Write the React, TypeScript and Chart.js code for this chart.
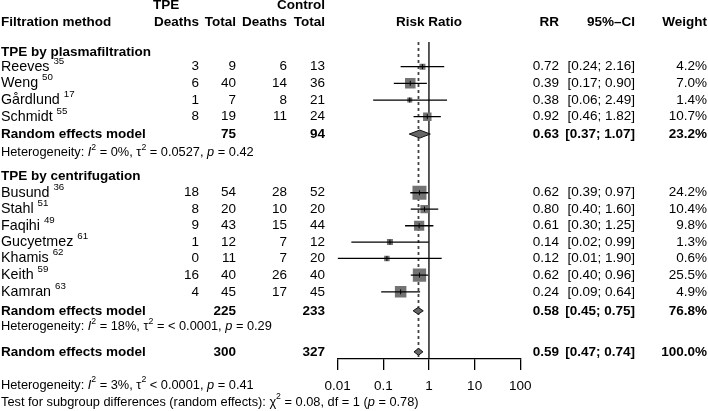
import React, { useEffect, useRef } from 'react';
import { Chart, registerables } from 'chart.js';

Chart.register(...registerables);

// ---------------- data ----------------
const studies = ['Reeves', 'Weng', 'Gårdlund', 'Schmidt', 'Busund', 'Stahl', 'Faqihi', 'Gucyetmez', 'Khamis', 'Keith', 'Kamran'];
const refs = ['35', '50', '17', '55', '36', '51', '49', '61', '62', '59', '63'];
const tpeDeaths = [3, 6, 1, 8, 18, 8, 9, 1, 0, 16, 4];
const tpeTotal = [9, 40, 7, 19, 54, 20, 43, 12, 11, 40, 45];
const ctrlDeaths = [6, 14, 8, 11, 28, 10, 15, 7, 7, 26, 17];
const ctrlTotal = [13, 36, 21, 24, 52, 20, 44, 12, 20, 40, 45];
const rr = [0.72, 0.39, 0.38, 0.92, 0.62, 0.8, 0.61, 0.14, 0.12, 0.62, 0.24];
const ciLow = [0.24, 0.17, 0.06, 0.46, 0.39, 0.4, 0.3, 0.02, 0.01, 0.4, 0.09];
const ciHigh = [2.16, 0.9, 2.49, 1.82, 0.97, 1.6, 1.25, 0.99, 1.9, 0.96, 0.64];
const weights = [4.2, 7.0, 1.4, 10.7, 24.2, 10.4, 9.8, 1.3, 0.6, 25.5, 4.9];

const groups = ['TPE by plasmafiltration', 'TPE by centrifugation'];
const groupTpeTotal = [75, 225];
const groupCtrlTotal = [94, 233];
const groupRR = [0.63, 0.58];
const groupLow = [0.37, 0.45];
const groupHigh = [1.07, 0.75];
const groupWeight = [23.2, 76.8];
const groupI2 = ['0%', '18%'];
const groupTau2 = ['= 0.0527', '= < 0.0001'];
const groupP = ['0.42', '0.29'];

const overallTpeTotal = 300;
const overallCtrlTotal = 327;
const overallRR = 0.59;
const overallLow = 0.47;
const overallHigh = 0.74;
const overallWeight = 100.0;
const overallI2 = '3%';
const overallTau2 = '< 0.0001';
const overallP = '0.41';
const testChi2 = '0.08';
const testDf = '1';
const testP = '0.78';

const xTicks = [0.01, 0.1, 1, 10, 100];

// ---------------- layout / style ----------------
const studyRow = [0, 1, 2, 3, 7.56, 8.54, 9.54, 10.52, 11.5, 12.5, 13.5];
const groupHeadRow = [-0.88, 6.6];
const groupRERow = [4.04, 14.64];
const groupHetRow = [5.16, 15.6];
const overallRow = 17.1;
const header1Row = -3.7;
const header2Row = -2.68;
const bottom1Row = 19.1;
const bottom2Row = 20.12;
const Y_TOP = -1.48;
const Y_BOTTOM = 17.53;

const squareSide = [6, 10.5, 5, 8.5, 14, 8.3, 10.2, 6, 5.5, 13.3, 11.5];
const diamondHalf = [4, 3.4];
const overallDiamondHalf = 3.4;

const COL = { name: 1, tpeHead: 153, tpeDeaths: 199, tpeTotal: 236, ctrlDeaths: 287, ctrlTotal: 325, rr: 559, ci: 635, weight: 707 };
const FONT = '"Liberation Sans", Arial, Helvetica, sans-serif';
const SZ = 13.5;
const SZ_NAME = 14.3;
const SZ_HET = 12.8;

type Seg = { t: string; b?: boolean; i?: boolean; sup?: boolean };

function fontOf(s: Seg, size: number, bold: boolean) {
  const sz = s.sup ? size * 0.68 : size;
  return `${s.i ? 'italic ' : ''}${bold || s.b ? 'bold ' : ''}${sz}px ${FONT}`;
}

function drawRich(ctx: CanvasRenderingContext2D, segs: Seg[], x: number, y: number, align: 'left' | 'right' | 'center', size = SZ, bold = false) {
  ctx.save();
  ctx.textBaseline = 'middle';
  ctx.textAlign = 'left';
  ctx.fillStyle = '#000';
  const widths = segs.map((s) => {
    ctx.font = fontOf(s, size, bold);
    return ctx.measureText(s.t).width;
  });
  const total = widths.reduce((a, b) => a + b, 0);
  let cx = align === 'left' ? x : align === 'right' ? x - total : x - total / 2;
  segs.forEach((s, k) => {
    ctx.font = fontOf(s, size, bold);
    ctx.fillText(s.t, cx, s.sup ? y - size * 0.4 : y);
    cx += widths[k];
  });
  ctx.restore();
}

const fmt2 = (v: number) => v.toFixed(2);
const ciText = (lo: number, hi: number) => `[${fmt2(lo)}; ${fmt2(hi)}]`;
const wText = (w: number) => `${w.toFixed(1)}%`;

const textPlugin = {
  id: 'forestText',
  afterDraw(chart: any) {
    const ctx: CanvasRenderingContext2D = chart.ctx;
    const ys = chart.scales.y;
    const xs = chart.scales.x;
    const Y = (r: number) => ys.getPixelForValue(r);
    const T = (t: string, x: number, r: number, align: 'left' | 'right' | 'center', bold = false, size = SZ) =>
      drawRich(ctx, [{ t }], x, Y(r), align, size, bold);

    // headers
    T('TPE', COL.tpeHead, header1Row, 'left', true);
    T('Control', COL.ctrlTotal, header1Row, 'right', true);
    T('Filtration method', COL.name, header2Row, 'left', true);
    T('Deaths', COL.tpeDeaths, header2Row, 'right', true);
    T('Total', COL.tpeTotal, header2Row, 'right', true);
    T('Deaths', COL.ctrlDeaths, header2Row, 'right', true);
    T('Total', COL.ctrlTotal, header2Row, 'right', true);
    T('Risk Ratio', xs.getPixelForValue(1), header2Row, 'center', true);
    T('RR', COL.rr, header2Row, 'right', true);
    T('95%–CI', COL.ci, header2Row, 'right', true);
    T('Weight', COL.weight, header2Row, 'right', true);

    // studies
    studies.forEach((name, i) => {
      const r = studyRow[i];
      drawRich(ctx, [{ t: name + ' ' }, { t: refs[i], sup: true }], COL.name, Y(r), 'left', SZ_NAME);
      T(String(tpeDeaths[i]), COL.tpeDeaths, r, 'right');
      T(String(tpeTotal[i]), COL.tpeTotal, r, 'right');
      T(String(ctrlDeaths[i]), COL.ctrlDeaths, r, 'right');
      T(String(ctrlTotal[i]), COL.ctrlTotal, r, 'right');
      T(fmt2(rr[i]), COL.rr, r, 'right');
      T(ciText(ciLow[i], ciHigh[i]), COL.ci, r, 'right');
      T(wText(weights[i]), COL.weight, r, 'right');
    });

    // subgroups
    groups.forEach((g, k) => {
      T(g, COL.name, groupHeadRow[k], 'left', true);
      const r = groupRERow[k];
      T('Random effects model', COL.name, r, 'left', true);
      T(String(groupTpeTotal[k]), COL.tpeTotal, r, 'right', true);
      T(String(groupCtrlTotal[k]), COL.ctrlTotal, r, 'right', true);
      T(fmt2(groupRR[k]), COL.rr, r, 'right', true);
      T(ciText(groupLow[k], groupHigh[k]), COL.ci, r, 'right', true);
      T(wText(groupWeight[k]), COL.weight, r, 'right', true);
      drawRich(ctx, [
        { t: 'Heterogeneity: ' }, { t: 'I', i: true }, { t: '2', sup: true },
        { t: ` = ${groupI2[k]}, τ` }, { t: '2', sup: true }, { t: ` ${groupTau2[k]}, ` },
        { t: 'p', i: true }, { t: ` = ${groupP[k]}` },
      ], COL.name, Y(groupHetRow[k]), 'left', SZ_HET);
    });

    // overall
    T('Random effects model', COL.name, overallRow, 'left', true);
    T(String(overallTpeTotal), COL.tpeTotal, overallRow, 'right', true);
    T(String(overallCtrlTotal), COL.ctrlTotal, overallRow, 'right', true);
    T(fmt2(overallRR), COL.rr, overallRow, 'right', true);
    T(ciText(overallLow, overallHigh), COL.ci, overallRow, 'right', true);
    T(wText(overallWeight), COL.weight, overallRow, 'right', true);

    drawRich(ctx, [
      { t: 'Heterogeneity: ' }, { t: 'I', i: true }, { t: '2', sup: true },
      { t: ` = ${overallI2}, τ` }, { t: '2', sup: true }, { t: ` ${overallTau2}, ` },
      { t: 'p', i: true }, { t: ` = ${overallP}` },
    ], COL.name, Y(bottom1Row), 'left', SZ_HET);
    drawRich(ctx, [
      { t: 'Test for subgroup differences (random effects): χ' }, { t: '2', sup: true },
      { t: ` = ${testChi2}, df = ${testDf} (` }, { t: 'p', i: true }, { t: ` = ${testP})` },
    ], COL.name, Y(bottom2Row), 'left', SZ_HET);
  },
};

const diamondPlugin = {
  id: 'diamonds',
  afterDatasetsDraw(chart: any) {
    const ctx: CanvasRenderingContext2D = chart.ctx;
    const xs = chart.scales.x;
    const ys = chart.scales.y;
    const items = [
      ...groupRR.map((v, k) => ({ est: v, lo: groupLow[k], hi: groupHigh[k], row: groupRERow[k], h: diamondHalf[k] })),
      { est: overallRR, lo: overallLow, hi: overallHigh, row: overallRow, h: overallDiamondHalf },
    ];
    ctx.save();
    items.forEach((d) => {
      const yc = ys.getPixelForValue(d.row);
      const xl = xs.getPixelForValue(d.lo);
      const xr = xs.getPixelForValue(d.hi);
      const xm = xs.getPixelForValue(d.est);
      ctx.beginPath();
      ctx.moveTo(xl, yc);
      ctx.lineTo(xm, yc - d.h);
      ctx.lineTo(xr, yc);
      ctx.lineTo(xm, yc + d.h);
      ctx.closePath();
      ctx.fillStyle = '#666666';
      ctx.fill();
      ctx.lineWidth = 1;
      ctx.strokeStyle = '#111';
      ctx.stroke();
    });
    ctx.restore();
  },
};

export default function App() {
  const ref = useRef<HTMLCanvasElement | null>(null);

  useEffect(() => {
    const canvas = ref.current;
    if (!canvas) return;

    const ciSets = studies.map((_, i) => ({
      type: 'scatter' as const,
      data: [{ x: ciLow[i], y: studyRow[i] }, { x: ciHigh[i], y: studyRow[i] }],
      showLine: true,
      borderColor: '#000',
      borderWidth: 1.3,
      pointRadius: 0,
      order: 3,
    }));

    const chart = new Chart(canvas, {
      type: 'scatter',
      data: {
        datasets: [
          {
            data: [{ x: 1, y: Y_TOP }, { x: 1, y: Y_BOTTOM }],
            showLine: true,
            borderColor: '#000',
            borderWidth: 1.3,
            pointRadius: 0,
            order: 10,
          },
          {
            data: [{ x: overallRR, y: Y_TOP }, { x: overallRR, y: Y_BOTTOM }],
            showLine: true,
            borderColor: '#444444',
            borderWidth: 1.8,
            borderDash: [3, 3],
            pointRadius: 0,
            order: 10,
          },
          {
            data: rr.map((v, i) => ({ x: v, y: studyRow[i] })),
            pointStyle: 'rect',
            pointRadius: squareSide.map((s) => s / Math.SQRT2),
            backgroundColor: '#737373',
            borderWidth: 0,
            order: 5,
          },
          ...ciSets,
          {
            data: rr.map((v, i) => ({ x: v, y: studyRow[i] })),
            pointStyle: 'line',
            rotation: 90,
            pointRadius: 2.5,
            borderColor: '#000',
            borderWidth: 1,
            order: 2,
          },
        ] as any,
      },
      options: {
        responsive: false,
        animation: false,
        events: [],
        layout: { padding: { left: 337.6, right: 187.7, top: 42, bottom: 12 } },
        plugins: { legend: { display: false }, tooltip: { enabled: false } },
        scales: {
          x: {
            type: 'logarithmic',
            min: 0.01,
            max: 100,
            afterBuildTicks: (s: any) => {
              s.ticks = xTicks.map((v) => ({ value: v }));
            },
            afterFit: (s: any) => {
              s.height = 40;
            },
            grid: { display: true, drawOnChartArea: false, drawTicks: true, tickLength: 11, color: '#000', lineWidth: 1.3 },
            border: { display: true, color: '#000', width: 1.3 },
            ticks: {
              autoSkip: false,
              maxRotation: 0,
              padding: 8,
              color: '#000',
              font: { family: FONT, size: 13.5 },
              callback: (v: any) => String(v),
            },
          },
          y: {
            type: 'linear',
            display: false,
            reverse: true,
            min: Y_TOP,
            max: Y_BOTTOM,
          },
        },
      },
      plugins: [diamondPlugin, textPlugin],
    });

    return () => chart.destroy();
  }, []);

  return (
    <div style={{ position: 'fixed', left: 0, top: 0, width: 708, height: 411, background: '#fff' }}>
      <canvas ref={ref} width={708} height={411} style={{ display: 'block', width: 708, height: 411 }} />
    </div>
  );
}
